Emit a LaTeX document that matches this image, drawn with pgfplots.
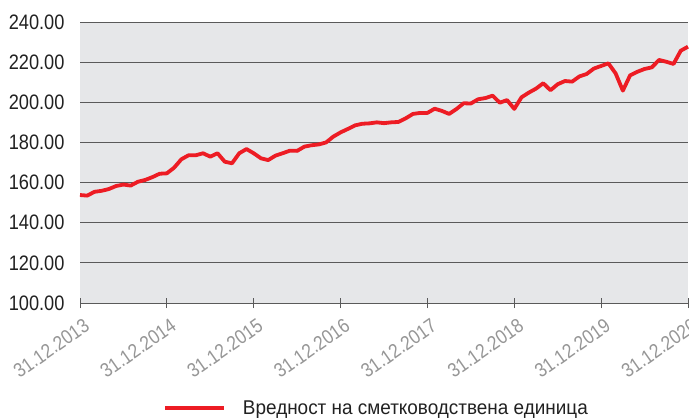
\documentclass[border=0pt]{standalone}
\usepackage{fontspec}
\setmainfont{Liberation Sans}[FakeStretch=0.87]
\newfontfamily\legfont{Liberation Sans}[FakeStretch=0.95]
\usepackage{pgfplots}
\pgfplotsset{compat=1.18}
\definecolor{bgc}{RGB}{230,231,233}
\definecolor{gridc}{RGB}{90,90,90}
\definecolor{linec}{RGB}{237,28,36}
\definecolor{xlab}{RGB}{150,150,150}
\begin{document}
\begin{tikzpicture}
\useasboundingbox (0,0) rectangle (689bp,418bp);
\begin{axis}[
  at={(80bp,115bp)}, anchor=south west,
  scale only axis, width=608bp, height=281bp,
  xmin=0, xmax=84, ymin=100, ymax=240,
  axis background/.style={fill=bgc},
  axis x line*=bottom, axis y line*=left,
  x axis line style={draw=gridc, line width=0.8bp},
  y axis line style={draw=none},
  xtick={0,12,24,36,48,60,72,84},
  xticklabels={31.12.2013,31.12.2014,31.12.2015,31.12.2016,31.12.2017,31.12.2018,31.12.2019,31.12.2020},
  ytick={100,120,...,240},
  ymajorgrids, grid style={draw=gridc, line width=0.8bp},
  major x tick style={draw=gridc, line width=0.8bp},
  major y tick style={draw=none},
  tick align=center, major tick length=10bp,
  /pgf/number format/assume math mode=true,
  yticklabel={\pgfmathprintnumber[fixed,fixed zerofill,precision=2]{\tick}},
  yticklabel style={font=\fontsize{21}{24}\selectfont, text=black!87, xshift=-7bp},
  xticklabel style={font=\fontsize{20}{23}\selectfont, text=xlab, xshift=3bp, yshift=-8bp, rotate=35, anchor=north east, inner sep=1pt},
  legend style={draw=none, fill=none, at={(0.1365,-0.3737)}, anchor=west, inner sep=0pt,
    font=\legfont\fontsize{20}{24}\selectfont, text=black!87},
  legend image code/.code={\draw[#1] (0bp,0bp) -- (59bp,0bp); \path (74bp,0bp);},
  clip=false,
]
\addplot[linec, line width=3.8bp, line join=round] coordinates {
(0,153.8)(1,153.5)(2,155.4)(3,155.9)(4,156.8)(5,158.3)(6,159.0)(7,158.5)(8,160.4)(9,161.3)
(10,162.7)(11,164.4)(12,164.6)(13,167.4)(14,171.6)(15,173.6)(16,173.6)(17,174.6)(18,172.9)(19,174.6)
(20,170.4)(21,169.6)(22,174.6)(23,176.7)(24,174.6)(25,172.1)(26,171.2)(27,173.4)(28,174.6)(29,175.9)
(30,175.8)(31,177.9)(32,178.6)(33,179.0)(34,180.0)(35,182.9)(36,185.0)(37,186.7)(38,188.5)(39,189.3)
(40,189.5)(41,190.0)(42,189.6)(43,190.0)(44,190.2)(45,192.0)(46,194.2)(47,194.7)(48,194.7)(49,196.8)
(50,195.7)(51,194.2)(52,196.6)(53,199.5)(54,199.4)(55,201.5)(56,202.1)(57,203.3)(58,199.8)(59,201.1)
(60,196.7)(61,202.5)(62,204.8)(63,206.8)(64,209.5)(65,206.0)(66,209.0)(67,210.6)(68,210.3)(69,212.9)
(70,214.1)(71,216.8)(72,218.1)(73,219.4)(74,214.4)(75,205.8)(76,213.4)(77,215.2)(78,216.6)(79,217.4)
(80,221.1)(81,220.2)(82,219.1)(83,225.7)(84,227.7)
};
\addlegendentry{Вредност на сметководствена единица}
\end{axis}
\end{tikzpicture}
\end{document}
